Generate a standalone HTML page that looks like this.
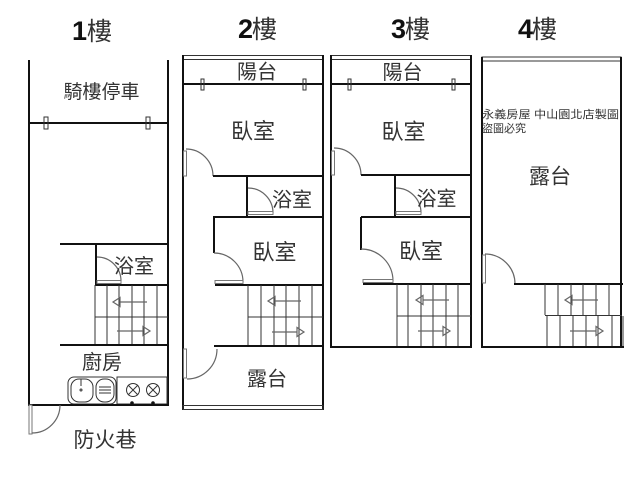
<!DOCTYPE html>
<html><head><meta charset="utf-8"><style>
html,body{margin:0;padding:0;background:#fff;}
svg{display:block;}
.w{stroke:#111;stroke-width:2;fill:none;}
.t{stroke:#333;stroke-width:1;fill:none;}
.g{stroke:#777;stroke-width:1;fill:#fff;}
.a{stroke:#666;stroke-width:1.2;fill:none;}
.lbl{font-family:"Liberation Sans","Noto Sans CJK TC",sans-serif;fill:#333;text-anchor:middle;}
.dig{font-family:"Liberation Sans",sans-serif;font-weight:bold;fill:#111;font-size:27px;text-anchor:end;}
.lou{font-family:"Liberation Sans","Noto Sans CJK TC",sans-serif;fill:#333;font-size:25px;}
</style></head><body>
<svg width="640" height="480" viewBox="0 0 640 480" xmlns="http://www.w3.org/2000/svg">
<rect width="640" height="480" fill="#fff"/>

<!-- Titles -->
<text class="dig" x="87" y="40">1</text><text class="lou" x="87" y="40">樓</text>
<text class="dig" x="253" y="38">2</text><text class="lou" x="252" y="38">樓</text>
<text class="dig" x="406" y="38">3</text><text class="lou" x="405" y="38">樓</text>
<text class="dig" x="533" y="38">4</text><text class="lou" x="532" y="38">樓</text>

<!-- ========== FLOOR 1 ========== -->
<line class="w" x1="29" y1="60" x2="29" y2="405"/>
<line class="w" x1="168" y1="60" x2="168" y2="405"/>
<line class="w" x1="29" y1="123" x2="168" y2="123"/>
<rect class="t" x="44" y="117" width="4" height="12" fill="#fff"/>
<rect class="t" x="146" y="117" width="4" height="12" fill="#fff"/>
<text class="lbl" x="101.5" y="98" font-size="19">騎樓停車</text>
<line class="w" x1="60" y1="244" x2="168" y2="244"/>
<line class="w" x1="96" y1="244" x2="96" y2="285"/>
<path class="a" d="M97 257 A24 24 0 0 1 121 281"/>
<rect class="g" x="97" y="280.5" width="24" height="3"/>
<text class="lbl" x="134" y="273" font-size="20">浴室</text>
<line class="w" x1="95" y1="285" x2="168" y2="285"/>
<!-- stairs f1 -->
<line class="t" x1="95" y1="285" x2="95" y2="345"/>
<line class="t" x1="95" y1="317" x2="168" y2="317"/>
<line class="t" x1="107" y1="285" x2="107" y2="345"/>
<line class="t" x1="119" y1="285" x2="119" y2="345"/>
<line class="t" x1="132" y1="285" x2="132" y2="345"/>
<line class="t" x1="144" y1="285" x2="144" y2="345"/>
<line class="t" x1="157" y1="285" x2="157" y2="345"/>
<line class="a" x1="120" y1="302" x2="147" y2="302"/>
<polygon class="a" points="113,302 120,297.5 120,306.5" fill="#fff"/>
<line class="a" x1="117" y1="331" x2="143" y2="331"/>
<polygon class="a" points="150,331 143,326.5 143,335.5" fill="#fff"/>
<line class="w" x1="60" y1="345" x2="168" y2="345"/>
<text class="lbl" x="102" y="369" font-size="20">廚房</text>
<!-- sink -->
<rect class="t" x="68" y="377" width="48" height="27" rx="6"/>
<rect class="t" x="71" y="379" width="22" height="23" rx="8"/>
<line class="t" x1="81" y1="379" x2="81" y2="386"/>
<circle class="t" cx="81" cy="390" r="1"/>
<rect class="t" x="96" y="379" width="18" height="23" rx="8"/>
<line class="t" x1="99" y1="387" x2="111" y2="387"/>
<line class="t" x1="99" y1="390" x2="111" y2="390"/>
<line class="t" x1="99" y1="393" x2="111" y2="393"/>
<!-- stove -->
<rect class="t" x="117" y="377" width="50" height="27"/>
<circle class="t" cx="133" cy="390" r="6.5"/>
<line class="t" x1="128" y1="385" x2="138" y2="395"/><line class="t" x1="138" y1="385" x2="128" y2="395"/>
<circle class="t" cx="153" cy="390" r="6.5"/>
<line class="t" x1="148" y1="385" x2="158" y2="395"/><line class="t" x1="158" y1="385" x2="148" y2="395"/>
<circle cx="132" cy="403" r="1.8" fill="#111"/>
<circle cx="153" cy="403" r="1.8" fill="#111"/>
<line class="w" x1="28" y1="405" x2="169" y2="405" stroke-width="2.5"/>
<!-- door f1 -->
<rect class="g" x="29" y="405" width="3" height="29"/>
<path class="a" d="M60 405 A28 28 0 0 1 32 433"/>
<text class="lbl" x="105" y="447" font-size="21">防火巷</text>

<!-- ========== FLOOR 2 ========== -->
<rect class="t" x="183" y="55.5" width="140" height="4" stroke-width="1.5"/>
<line class="w" x1="183" y1="55" x2="183" y2="410"/>
<line class="w" x1="323" y1="55" x2="323" y2="410"/>
<text class="lbl" x="257" y="78.5" font-size="20">陽台</text>
<line class="w" x1="183" y1="84" x2="323" y2="84"/>
<rect class="t" x="201" y="79" width="3" height="11" fill="#fff"/>
<rect class="t" x="303" y="79" width="3" height="11" fill="#fff"/>
<text class="lbl" x="253" y="139" font-size="22">臥室</text>
<rect class="g" x="183.5" y="151" width="3" height="25"/>
<path class="a" d="M186 149 A27 27 0 0 1 213 176"/>
<line class="w" x1="213" y1="176" x2="323" y2="176"/>
<line class="w" x1="247" y1="176" x2="247" y2="216"/>
<path class="a" d="M248 188 A25 25 0 0 1 273 213"/>
<rect class="g" x="248" y="211.5" width="25" height="3"/>
<text class="lbl" x="292" y="206.5" font-size="20">浴室</text>
<line class="w" x1="213" y1="217" x2="323" y2="217"/>
<line class="w" x1="214" y1="217" x2="214" y2="253"/>
<text class="lbl" x="274.5" y="260" font-size="22">臥室</text>
<path class="a" d="M214 253 A29 29 0 0 1 243 282"/>
<rect class="g" x="215" y="280.5" width="28" height="3"/>
<line class="w" x1="215" y1="285" x2="323" y2="285"/>
<!-- stairs f2 -->
<line class="t" x1="248" y1="285" x2="248" y2="346"/>
<line class="t" x1="248" y1="317" x2="323" y2="317"/>
<line class="t" x1="261" y1="285" x2="261" y2="346"/>
<line class="t" x1="274" y1="285" x2="274" y2="346"/>
<line class="t" x1="286" y1="285" x2="286" y2="346"/>
<line class="t" x1="299" y1="285" x2="299" y2="346"/>
<line class="t" x1="312" y1="285" x2="312" y2="346"/>
<line class="a" x1="275" y1="301" x2="301" y2="301"/>
<polygon class="a" points="268,301 275,296.5 275,305.5" fill="#fff"/>
<line class="a" x1="272" y1="332" x2="297" y2="332"/>
<polygon class="a" points="304,332 297,327.5 297,336.5" fill="#fff"/>
<line class="w" x1="214" y1="346" x2="323" y2="346"/>
<rect class="g" x="183.5" y="349" width="3" height="29"/>
<path class="a" d="M217 349 A30 30 0 0 1 187 379"/>
<text class="lbl" x="267" y="385.5" font-size="20">露台</text>
<rect class="t" x="183" y="405.5" width="140" height="4" stroke-width="1.5"/>

<!-- ========== FLOOR 3 ========== -->
<rect class="t" x="331" y="55.5" width="140" height="4" stroke-width="1.5"/>
<line class="w" x1="331" y1="55" x2="331" y2="348"/>
<line class="w" x1="471" y1="55" x2="471" y2="348"/>
<text class="lbl" x="402.5" y="79" font-size="20">陽台</text>
<line class="w" x1="331" y1="84" x2="471" y2="84"/>
<rect class="t" x="348" y="79" width="3" height="11" fill="#fff"/>
<rect class="t" x="452" y="79" width="3" height="11" fill="#fff"/>
<text class="lbl" x="403.5" y="139.5" font-size="22">臥室</text>
<rect class="g" x="331.5" y="151" width="3" height="24"/>
<path class="a" d="M334 148 A27 27 0 0 1 361 175"/>
<line class="w" x1="361" y1="175" x2="471" y2="175"/>
<line class="w" x1="395" y1="175" x2="395" y2="216"/>
<path class="a" d="M396 188 A25 25 0 0 1 421 213"/>
<rect class="g" x="396" y="211.5" width="25" height="3"/>
<text class="lbl" x="436.5" y="205.5" font-size="20">浴室</text>
<line class="w" x1="361" y1="217" x2="471" y2="217"/>
<line class="w" x1="361" y1="217" x2="361" y2="250"/>
<text class="lbl" x="421" y="259" font-size="22">臥室</text>
<path class="a" d="M361 249 A32 32 0 0 1 393 281"/>
<rect class="g" x="363" y="279.5" width="30" height="3"/>
<line class="w" x1="363" y1="284" x2="472" y2="284"/>
<!-- stairs f3 -->
<line class="t" x1="397" y1="284" x2="397" y2="347"/>
<line class="t" x1="397" y1="316" x2="471" y2="316"/>
<line class="t" x1="408" y1="284" x2="408" y2="347"/>
<line class="t" x1="421" y1="284" x2="421" y2="347"/>
<line class="t" x1="433" y1="284" x2="433" y2="347"/>
<line class="t" x1="446" y1="284" x2="446" y2="347"/>
<line class="t" x1="458" y1="284" x2="458" y2="347"/>
<line class="a" x1="423" y1="300" x2="449" y2="300"/>
<polygon class="a" points="416,300 423,295.5 423,304.5" fill="#fff"/>
<line class="a" x1="418" y1="331" x2="443" y2="331"/>
<polygon class="a" points="450,331 443,326.5 443,335.5" fill="#fff"/>
<line class="w" x1="330" y1="347" x2="472" y2="347"/>

<!-- ========== FLOOR 4 ========== -->
<rect class="t" x="482" y="57" width="139" height="4" stroke-width="1.5"/>
<line class="w" x1="482" y1="57" x2="482" y2="348"/>
<line class="w" x1="621" y1="57" x2="621" y2="348"/>
<text x="482" y="118" font-family="'Liberation Sans','Noto Sans CJK TC',sans-serif" font-size="11" fill="#333" textLength="137" lengthAdjust="spacingAndGlyphs">永義房屋 中山園北店製圖</text>
<text x="482" y="132" font-family="'Liberation Sans','Noto Sans CJK TC',sans-serif" font-size="11" fill="#333">盜圖必究</text>
<text class="lbl" x="550" y="183.5" font-size="21">露台</text>
<rect class="g" x="482.5" y="255" width="3" height="28"/>
<path class="a" d="M485 254 A30 30 0 0 1 515 284"/>
<line class="w" x1="514" y1="284" x2="623" y2="284"/>
<!-- stairs f4 -->
<line class="t" x1="545" y1="284" x2="545" y2="315"/>
<line class="t" x1="547" y1="316" x2="547" y2="347"/>
<line class="t" x1="545" y1="315.5" x2="622" y2="315.5"/>
<line class="t" x1="558" y1="284" x2="558" y2="315"/>
<line class="t" x1="571" y1="284" x2="571" y2="315"/>
<line class="t" x1="583" y1="284" x2="583" y2="315"/>
<line class="t" x1="596" y1="284" x2="596" y2="315"/>
<line class="t" x1="609" y1="284" x2="609" y2="315"/>
<line class="t" x1="560" y1="316" x2="560" y2="347"/>
<line class="t" x1="573" y1="316" x2="573" y2="347"/>
<line class="t" x1="586" y1="316" x2="586" y2="347"/>
<line class="t" x1="598" y1="316" x2="598" y2="347"/>
<line class="t" x1="612" y1="316" x2="612" y2="347"/>
<line class="t" x1="623" y1="316" x2="623" y2="347"/>
<line class="a" x1="572" y1="300" x2="598" y2="300"/>
<polygon class="a" points="565,300 572,295.5 572,304.5" fill="#fff"/>
<line class="a" x1="570" y1="331" x2="596" y2="331"/>
<polygon class="a" points="603,331 596,326.5 596,335.5" fill="#fff"/>
<line class="w" x1="481" y1="347" x2="624" y2="347"/>
</svg>
</body></html>
